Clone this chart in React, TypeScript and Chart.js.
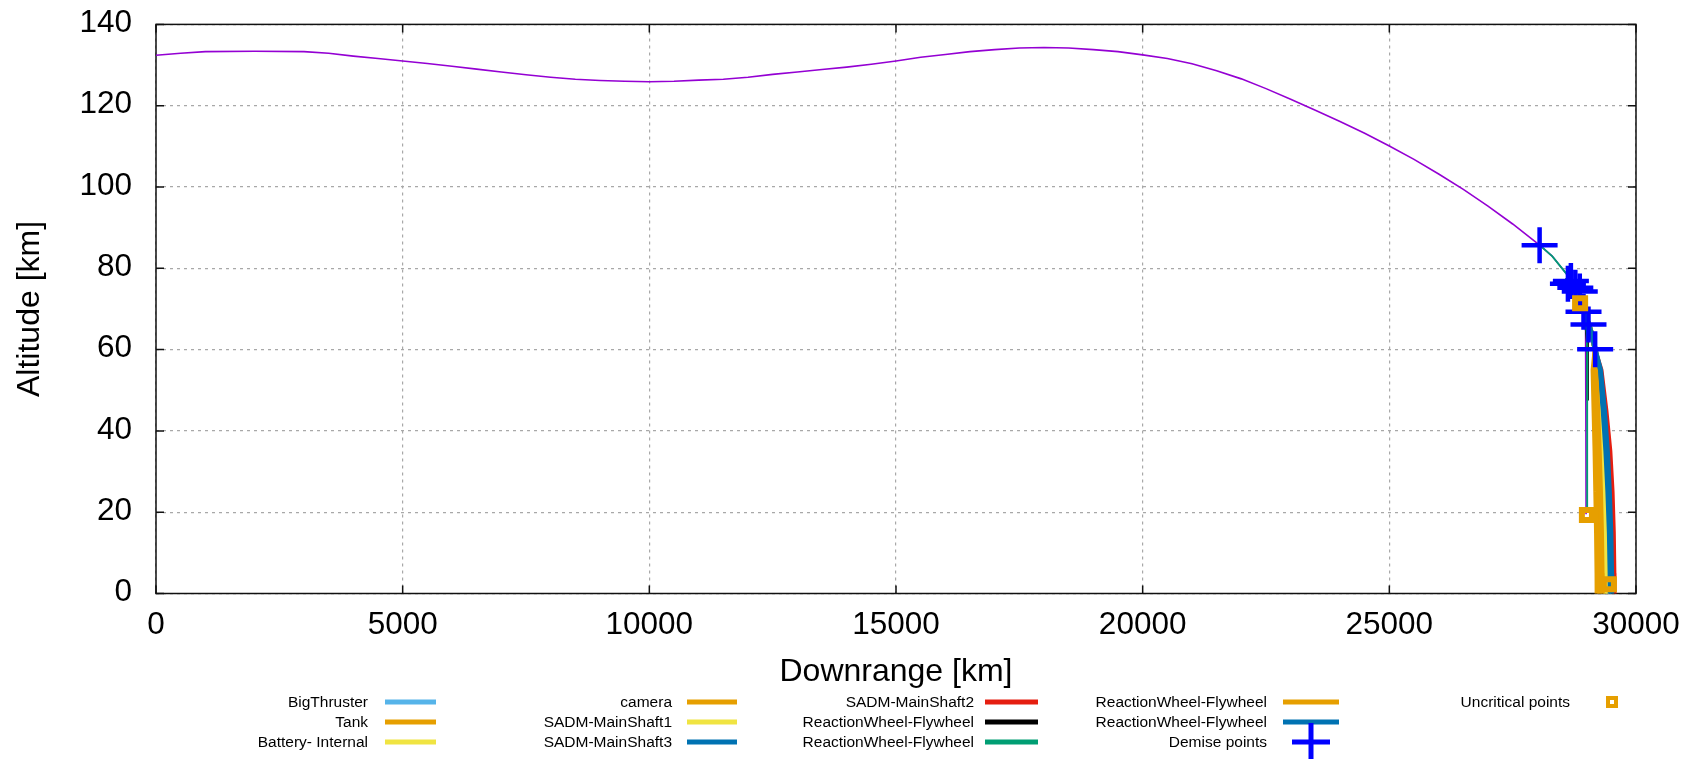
import React, { useEffect, useRef } from 'react';
import { Chart, registerables } from 'chart.js';

Chart.register(...registerables);

type Pt = [number, number];

// ---------- DATA (downrange km, altitude km) ----------
const trajectoryPath: Pt[] = [
  [0, 132.4], [500, 132.9], [1000, 133.3], [2000, 133.4], [3000, 133.3], [3500, 132.9],
  [4000, 132.2], [4500, 131.6], [5000, 131.0], [5500, 130.4], [6000, 129.7], [6500, 129.0],
  [7000, 128.3], [7500, 127.6], [8000, 127.0], [8500, 126.5], [9000, 126.2], [9500, 126.0],
  [10000, 125.9], [10500, 126.0], [11000, 126.3], [11500, 126.5], [12000, 127.0], [12500, 127.7],
  [13000, 128.3], [13500, 128.9], [14000, 129.5], [14500, 130.2], [15000, 131.0], [15500, 131.9],
  [16000, 132.6], [16500, 133.3], [17000, 133.8], [17500, 134.2], [18000, 134.3], [18500, 134.2],
  [19000, 133.8], [19500, 133.3], [20000, 132.5], [20500, 131.6], [21000, 130.3], [21500, 128.6],
  [22000, 126.6], [22500, 124.2], [23000, 121.6], [23500, 118.9], [24000, 116.1], [24500, 113.2],
  [25000, 110.1], [25500, 106.8], [26000, 103.2], [26500, 99.4], [27000, 95.3], [27500, 90.9],
  [28046, 85.7],
];
const parentTail: Pt[] = [
  [28300, 83.0], [28600, 78.5], [28800, 74.8], [28930, 70.8], [28978, 66.0], [28983, 60.0],
  [28986, 40.0], [28988, 19.5],
];
const greenPath: Pt[] = [
  [28046, 85.7], [28300, 83.0], [28600, 78.5], [28800, 74.8], [28950, 70.0], [29000, 64.0],
  [29008, 60.0], [29010, 40.0], [29012, 20.5],
];
const blackPath: Pt[] = [[28950, 70.0], [29010, 62.0], [29018, 55.0], [29020, 47.5]];

const fragmentStart: Pt[] = [
  [28600, 77.8], [28750, 75.5], [28870, 72.5], [28960, 69.0], [29060, 65.5], [29130, 62.5], [29172, 60.0],
];
const fragmentAltitudes = [55, 45, 35, 25, 15, 5, 0];
const bigThrusterX = [29245, 29305, 29355, 29395, 29425, 29440, 29443];
const tankX = [29160, 29190, 29215, 29235, 29252, 29262, 29265];
const batteryX = [29210, 29260, 29300, 29335, 29360, 29372, 29375];
const cameraX = [29130, 29150, 29170, 29185, 29200, 29210, 29212];
const sadm1X = [29225, 29280, 29325, 29360, 29385, 29398, 29400];
const sadm3X = [29265, 29335, 29390, 29430, 29460, 29475, 29478];
const sadm2X = [29300, 29400, 29480, 29525, 29550, 29562, 29565];
const rwOrangeX = [29185, 29225, 29255, 29280, 29300, 29312, 29315];
const rwBlueX = [29280, 29360, 29420, 29460, 29490, 29505, 29508];

const demisePoints: Pt[] = [
  [28046, 85.7], [28620, 76.2], [28680, 76.9], [28770, 75.2], [28860, 74.3],
  [28936, 69.3], [29037, 66.2], [29172, 60.1],
];
const uncriticalPoints: Pt[] = [[28867, 71.4], [29005, 19.3], [29450, 2.3]];

const xTickStep = 5000;
const yTickStep = 20;

// ---------- helpers ----------
const FONT = "'Liberation Sans', Arial, Helvetica, sans-serif";
const toPoints = (pairs: Pt[]) => pairs.map(([x, y]) => ({ x, y }));
const fragment = (xs: number[]) =>
  toPoints([...fragmentStart, ...xs.map((x, i) => [x, fragmentAltitudes[i]] as Pt)]);

const line = (label: string, data: any[], color: string, width: number) => ({
  label,
  data,
  showLine: true,
  borderColor: color,
  backgroundColor: color,
  borderWidth: width,
  pointRadius: 0,
  fill: false,
  clip: false as any,
  kind: 'line',
});

// layout of the bottom key (positions only)
const keyCols = [
  { textRight: 368, s: 385, e: 436 },
  { textRight: 672, s: 687, e: 737 },
  { textRight: 974, s: 985, e: 1038 },
  { textRight: 1267, s: 1283, e: 1339 },
  { textRight: 1570, s: 1600, e: 1624 },
];
const keyRows = [702, 722, 742];

const framePlugin = {
  id: 'frame',
  beforeDatasetsDraw(chart: any) {
    const { ctx, chartArea: a, scales } = chart;
    const xs = scales.x;
    const ys = scales.y;
    ctx.save();
    ctx.strokeStyle = '#111';
    ctx.lineWidth = 1.5;
    ctx.beginPath();
    xs.ticks.forEach((t: any) => {
      const p = xs.getPixelForValue(t.value);
      ctx.moveTo(p, a.bottom);
      ctx.lineTo(p, a.bottom - 8);
      ctx.moveTo(p, a.top);
      ctx.lineTo(p, a.top + 8);
    });
    ys.ticks.forEach((t: any) => {
      const p = ys.getPixelForValue(t.value);
      ctx.moveTo(a.left, p);
      ctx.lineTo(a.left + 8, p);
      ctx.moveTo(a.right, p);
      ctx.lineTo(a.right - 8, p);
    });
    ctx.stroke();
    ctx.strokeRect(a.left, a.top, a.right - a.left, a.bottom - a.top);
    ctx.restore();
  },
};

const keyPlugin = {
  id: 'key',
  afterDraw(chart: any) {
    const { ctx } = chart;
    const items = chart.data.datasets.filter((d: any) => d.label);
    ctx.save();
    ctx.font = `15.5px ${FONT}`;
    ctx.textAlign = 'right';
    ctx.textBaseline = 'middle';
    items.forEach((d: any, i: number) => {
      const col = keyCols[Math.floor(i / 3)];
      const y = keyRows[i % 3];
      ctx.fillStyle = '#000';
      ctx.fillText(d.label, col.textRight, y + 1);
      const cx = (col.s + col.e) / 2;
      if (d.kind === 'line') {
        ctx.strokeStyle = d.borderColor;
        ctx.lineWidth = 5;
        ctx.beginPath();
        ctx.moveTo(col.s, y);
        ctx.lineTo(col.e, y);
        ctx.stroke();
      } else if (d.pointStyle === 'cross') {
        ctx.strokeStyle = d.borderColor;
        ctx.lineWidth = 5;
        ctx.beginPath();
        ctx.moveTo(cx - 19, y);
        ctx.lineTo(cx + 19, y);
        ctx.moveTo(cx, y - 19);
        ctx.lineTo(cx, y + 19);
        ctx.stroke();
      } else {
        ctx.strokeStyle = d.borderColor;
        ctx.lineWidth = 4;
        ctx.strokeRect(cx - 4, y - 4, 8, 8);
      }
    });
    ctx.restore();
  },
};

export default function App() {
  const ref = useRef<HTMLCanvasElement | null>(null);

  useEffect(() => {
    if (!ref.current) return;
    const datasets: any[] = [
      line('', toPoints([...trajectoryPath, ...parentTail]), '#9400D3', 1.6),
      line('BigThruster', fragment(bigThrusterX), '#56B4E9', 5),
      line('Tank', fragment(tankX), '#E69F00', 5),
      line('Battery- Internal', fragment(batteryX), '#F0E442', 5),
      line('camera', fragment(cameraX), '#E69F00', 5),
      line('SADM-MainShaft1', fragment(sadm1X), '#F0E442', 5),
      line('SADM-MainShaft3', fragment(sadm3X), '#0072B2', 5),
      line('SADM-MainShaft2', fragment(sadm2X), '#E51E10', 4),
      line('ReactionWheel-Flywheel', toPoints(blackPath), '#000000', 2.5),
      line('ReactionWheel-Flywheel', toPoints(greenPath), '#009E73', 1.8),
      line('ReactionWheel-Flywheel', fragment(rwOrangeX), '#E69F00', 5),
      line('ReactionWheel-Flywheel', fragment(rwBlueX), '#0072B2', 5),
      {
        label: 'Demise points',
        data: toPoints(demisePoints),
        showLine: false,
        pointStyle: 'cross',
        pointRadius: 18,
        borderColor: '#0000FF',
        backgroundColor: '#0000FF',
        pointBorderWidth: 4.5,
        clip: false,
        kind: 'point',
      },
      {
        label: 'Uncritical points',
        data: toPoints(uncriticalPoints),
        showLine: false,
        pointStyle: 'rect',
        pointRadius: 7.1,
        borderColor: '#E69F00',
        backgroundColor: 'rgba(0,0,0,0)',
        pointBorderWidth: 6,
        clip: false,
        kind: 'point',
      },
    ];
    datasets.forEach((d, i) => (d.order = 100 - i));

    const chart = new Chart(ref.current, {
      type: 'scatter',
      data: { datasets },
      plugins: [framePlugin, keyPlugin],
      options: {
        responsive: false,
        maintainAspectRatio: false,
        animation: false,
        events: [],
        layout: { padding: { left: 0, right: 60, top: 24.4, bottom: 0 } },
        plugins: { legend: { display: false }, tooltip: { enabled: false } },
        scales: {
          x: {
            type: 'linear',
            min: 0,
            max: 30000,
            afterFit: (s: any) => {
              s.height = 165.5;
            },
            ticks: {
              stepSize: xTickStep,
              autoSkip: false,
              maxRotation: 0,
              padding: 13,
              color: '#000',
              font: { family: FONT, size: 31.5 },
              callback: (v: any) => String(v),
            },
            grid: { color: '#a8a8a8', lineWidth: 1.2, drawTicks: false },
            border: { display: false, dash: [3, 4] },
            title: {
              display: true,
              text: 'Downrange [km]',
              color: '#000',
              font: { family: FONT, size: 32 },
              padding: { top: 0, bottom: 68 },
            },
          },
          y: {
            type: 'linear',
            min: 0,
            max: 140,
            afterFit: (s: any) => {
              s.width = 156;
            },
            ticks: {
              stepSize: yTickStep,
              autoSkip: false,
              padding: 0,
              labelOffset: -1,
              color: '#000',
              font: { family: FONT, size: 31.5 },
              callback: (v: any) => String(v),
            },
            grid: {
              color: '#a8a8a8',
              lineWidth: 1.2,
              drawTicks: true,
              tickLength: 24,
              tickColor: 'rgba(0,0,0,0)',
            },
            border: { display: false, dash: [3, 4] },
            title: {
              display: true,
              text: 'Altitude [km]',
              color: '#000',
              font: { family: FONT, size: 32 },
              padding: { top: 11, bottom: 0 },
            },
          },
        },
      } as any,
    });
    return () => chart.destroy();
  }, []);

  return (
    <div style={{ position: 'absolute', left: 0, top: 0, width: 1696, height: 759, background: '#fff' }}>
      <canvas ref={ref} width={1696} height={759} style={{ display: 'block' }} />
    </div>
  );
}
